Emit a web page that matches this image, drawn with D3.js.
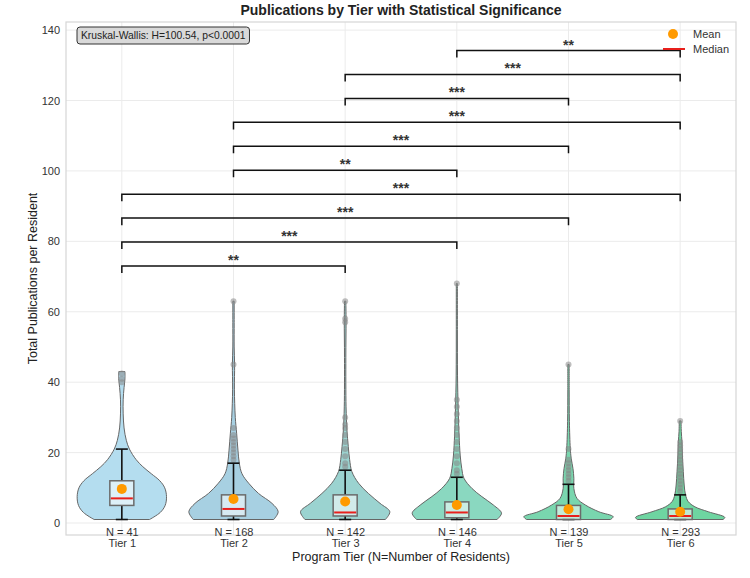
<!DOCTYPE html>
<html lang="en">
<head>
    <meta charset="UTF-8">
    <title>Publications by Tier</title>
    <style>
        body{ margin:0; background:#fff; }
        svg{ font-family: "Liberation Sans", Arial, sans-serif; }
        .grid line{ stroke:#ebebeb; stroke-width:1; }
        .axis text{ font-size:11px; fill:#333; }
        .axis path, .axis line{ display:none; }
    </style>
</head>
<body>
    <svg width="750" height="578"></svg>
    <script src="https://d3js.org/d3.v7.min.js"></script>
    <script>
        // ---- data ----
        var tiers = ["Tier 1", "Tier 2", "Tier 3", "Tier 4", "Tier 5", "Tier 6"];
        var nResidents = [41, 168, 142, 146, 139, 293];
        var colors = ["#b4ddef", "#a7d0e2", "#9bd3d0", "#8ad8c0", "#79d6ae", "#6ed5a1"];

        var whiskerLow  = [1, 1, 1, 1, 1, 1];
        var q1s         = [5, 2, 2, 1.5, 1, 1];
        var medians     = [7, 4, 3, 3, 2, 2];
        var q3s         = [12, 8, 8, 6, 5, 4];
        var whiskerHigh = [21, 17, 15, 13, 11, 8];
        var means       = [9.7, 6.8, 6.1, 5.1, 3.9, 3.2];

        var outliers = [
            [40, 41, 42.5],
            [18, 19, 20, 21, 22, 23, 24, 25, 27, 45, 63],
            [16, 17, 19, 21, 23, 25, 27, 28, 30, 57, 58, 63],
            [14, 15, 17, 19, 21, 23, 25, 27, 29, 31, 33, 35, 68],
            [12, 13, 14, 15, 16, 17, 18, 21, 45],
            [9, 10, 11, 12, 13, 14, 15, 16, 17, 18, 19, 20, 21, 22, 23, 29]
        ];

        // violin outlines: [value, relative half width]
        var violins = [
            [[1,0.62],[3,0.86],[5,0.97],[7.5,1.0],[10,0.96],[12,0.85],[14,0.66],[16,0.47],[18,0.32],[21,0.17],[23.5,0.1],[27,0.05],[31,0.03],[35,0.03],[38.5,0.05],[41,0.07],[43,0.07]],
            [[1,0.9],[3.2,1.0],[5.6,0.86],[8.4,0.56],[11.3,0.34],[14,0.19],[17,0.13],[20.7,0.1],[25.5,0.07],[30,0.04],[38,0.02],[45,0.025],[50,0.015],[57,0.015],[63,0.015]],
            [[1,0.9],[3.2,1.0],[5.6,0.78],[8.4,0.52],[11.3,0.3],[14.6,0.15],[18,0.1],[21.7,0.07],[26.4,0.04],[33,0.02],[47,0.015],[57.5,0.02],[63,0.015]],
            [[1,0.9],[2.8,1.0],[5.1,0.82],[7.5,0.56],[9.8,0.34],[12.7,0.16],[15.5,0.11],[19.3,0.075],[25,0.05],[32.6,0.03],[42,0.015],[55,0.012],[68,0.012]],
            [[1,0.94],[1.8,1.0],[3.2,0.68],[5.1,0.38],[7,0.19],[9.8,0.12],[12.7,0.12],[15.5,0.1],[18.4,0.06],[21.2,0.04],[28.8,0.02],[38,0.015],[45,0.015]],
            [[1,0.96],[1.6,1.0],[3.2,0.63],[4.6,0.33],[6.1,0.18],[8,0.12],[10.8,0.09],[14.6,0.07],[19.3,0.05],[23.1,0.04],[26,0.025],[29,0.02]]
        ];

        // pairwise comparisons, bottom bracket first: [from, to, stars]
        var comparisons = [
            [0, 2, "**"], [0, 3, "***"], [0, 4, "***"], [0, 5, "***"],
            [1, 3, "**"], [1, 4, "***"], [1, 5, "***"],
            [2, 4, "***"], [2, 5, "***"], [3, 5, "**"]
        ];
        var yTicks = [0, 20, 40, 60, 80, 100, 120, 140];
        var kruskalText = "Kruskal-Wallis: H=100.54, p<0.0001";

        // ---- layout ----
        var svg = d3.select("svg"),
            margin = {top: 22, right: 14, bottom: 43, left: 66},
            width = +svg.attr("width") - margin.left - margin.right,
            height = +svg.attr("height") - margin.top - margin.bottom;

        var x = d3.scaleLinear().domain([-0.5, 5.5]).range([0, width]);
        var y = d3.scaleLinear().domain([-3.4, 142.3]).range([height, 0]);
        var band = x(1) - x(0);
        var halfViolin = band * 0.4;
        var boxW = band * 0.215;

        svg.append("text")
            .attr("x", margin.left + width / 2).attr("y", 15)
            .attr("text-anchor", "middle")
            .style("font-size", "14px").style("font-weight", "bold").style("fill", "#222")
            .text("Publications by Tier with Statistical Significance");

        var g = svg.append("g")
            .attr("transform", "translate(" + margin.left + "," + margin.top + ")");

        // grid
        g.append("g").attr("class", "grid")
            .selectAll("line.h").data(yTicks).enter().append("line")
            .attr("x1", 0).attr("x2", width)
            .attr("y1", function(d){ return y(d); }).attr("y2", function(d){ return y(d); });
        g.append("g").attr("class", "grid")
            .selectAll("line.v").data(tiers).enter().append("line")
            .attr("y1", 0).attr("y2", height)
            .attr("x1", function(d, i){ return x(i); }).attr("x2", function(d, i){ return x(i); });

        g.append("rect")
            .attr("width", width).attr("height", height)
            .attr("fill", "none").attr("stroke", "#d6d6d6").attr("stroke-width", 1.2);

        // violins
        tiers.forEach(function(t, i){
            var area = d3.area()
                .curve(d3.curveCatmullRom)
                .y(function(d){ return y(d[0]); })
                .x0(function(d){ return x(i) - d[1] * halfViolin; })
                .x1(function(d){ return x(i) + d[1] * halfViolin; });
            g.append("path")
                .datum(violins[i])
                .attr("d", area)
                .attr("fill", colors[i])
                .attr("stroke", "#666")
                .attr("stroke-width", 1);
        });

        // outliers
        tiers.forEach(function(t, i){
            g.selectAll(null).data(outliers[i]).enter().append("circle")
                .attr("cx", x(i)).attr("cy", function(d){ return y(d); })
                .attr("r", 3)
                .attr("fill", "#888").attr("fill-opacity", 0.55);
        });

        // whiskers, boxes, medians, means
        tiers.forEach(function(t, i){
            var cx = x(i);
            var wk = g.append("g").attr("stroke", "#111").attr("stroke-width", 1.6);
            wk.append("line").attr("x1", cx).attr("x2", cx).attr("y1", y(whiskerLow[i])).attr("y2", y(q1s[i]));
            wk.append("line").attr("x1", cx).attr("x2", cx).attr("y1", y(q3s[i])).attr("y2", y(whiskerHigh[i]));
            wk.append("line").attr("x1", cx - 6).attr("x2", cx + 6).attr("y1", y(whiskerLow[i])).attr("y2", y(whiskerLow[i]));
            wk.append("line").attr("x1", cx - 6).attr("x2", cx + 6).attr("y1", y(whiskerHigh[i])).attr("y2", y(whiskerHigh[i]));

            g.append("rect")
                .attr("x", cx - boxW / 2).attr("width", boxW)
                .attr("y", y(q3s[i])).attr("height", y(q1s[i]) - y(q3s[i]))
                .attr("fill", "#ffffff").attr("fill-opacity", 0.55)
                .attr("stroke", "#6b6b6b").attr("stroke-width", 1.5);

            g.append("line")
                .attr("x1", cx - boxW / 2 + 1).attr("x2", cx + boxW / 2 - 1)
                .attr("y1", y(medians[i])).attr("y2", y(medians[i]))
                .attr("stroke", "#e8201c").attr("stroke-width", 2);

            g.append("circle")
                .attr("cx", cx).attr("cy", y(means[i])).attr("r", 5)
                .attr("fill", "#ff9a00");
        });

        // significance brackets
        comparisons.forEach(function(c, k){
            var level = 73 + k * 6.8;
            var yl = y(level), drop = y(level - 2) - yl;
            var x1 = x(c[0]), x2 = x(c[1]);
            g.append("path")
                .attr("d", "M" + x1 + "," + (yl + drop) + "V" + yl + "H" + x2 + "V" + (yl + drop))
                .attr("fill", "none").attr("stroke", "#111").attr("stroke-width", 1.5);
            g.append("text")
                .attr("x", (x1 + x2) / 2).attr("y", yl - 1)
                .attr("text-anchor", "middle")
                .style("font-size", "14px").style("font-weight", "bold").style("fill", "#333")
                .text(c[2]);
        });

        // axes
        g.append("g").attr("class", "axis")
            .call(d3.axisLeft(y).tickValues(yTicks).tickSize(0).tickPadding(6));

        var xa = g.append("g").attr("class", "axis")
            .attr("transform", "translate(0," + height + ")")
            .call(d3.axisBottom(x).tickValues(d3.range(tiers.length)).tickSize(0).tickFormat(""));
        xa.selectAll(".tick").each(function(d){
            var tx = d3.select(this).append("text")
                .attr("text-anchor", "middle").attr("fill", "#333")
                .style("font-size", "11px");
            tx.append("tspan").attr("x", 0).attr("y", 1).text("N = " + nResidents[d]);
            tx.append("tspan").attr("x", 0).attr("y", 12).text(tiers[d]);
        });

        svg.append("text")
            .attr("x", margin.left + width / 2).attr("y", 561)
            .attr("text-anchor", "middle")
            .style("font-size", "12.5px").style("fill", "#222")
            .text("Program Tier (N=Number of Residents)");

        svg.append("text")
            .attr("transform", "translate(37," + (margin.top + height / 2) + ") rotate(-90)")
            .attr("text-anchor", "middle")
            .style("font-size", "12.5px").style("fill", "#222")
            .text("Total Publications per Resident");

        // Kruskal-Wallis box
        var kb = g.append("g").attr("transform", "translate(11,5)");
        var kt = kb.append("text")
            .attr("x", 4).attr("y", 12)
            .style("font-size", "10.3px").style("fill", "#222")
            .text(kruskalText);
        var kw = kt.node().getComputedTextLength();
        kb.insert("rect", "text")
            .attr("width", kw + 8).attr("height", 17)
            .attr("rx", 3)
            .attr("fill", "#d9d9d9").attr("stroke", "#333").attr("stroke-width", 1);

        // legend
        var lg = g.append("g").attr("transform", "translate(" + (width - 73) + ",12)");
        lg.append("circle").attr("cx", 10).attr("cy", 0).attr("r", 5).attr("fill", "#ff9a00");
        lg.append("text").attr("x", 30).attr("y", 4).style("font-size", "11px").style("fill", "#333").text("Mean");
        lg.append("line").attr("x1", 0).attr("x2", 22).attr("y1", 15).attr("y2", 15)
            .attr("stroke", "#e8201c").attr("stroke-width", 2);
        lg.append("text").attr("x", 30).attr("y", 19).style("font-size", "11px").style("fill", "#333").text("Median");
    </script>
</body>
</html>
